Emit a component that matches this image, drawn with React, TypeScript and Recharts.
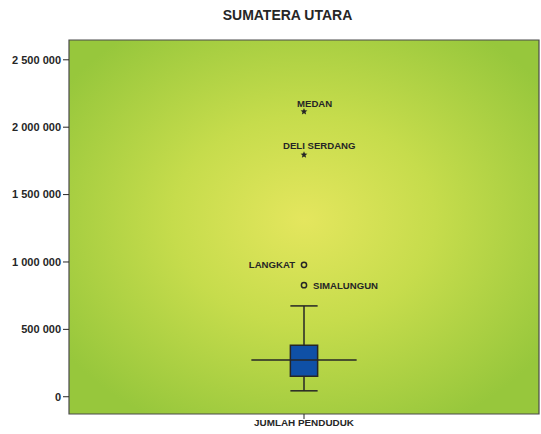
import React from "react";
import {
  ComposedChart,
  XAxis,
  YAxis,
  Scatter,
  ReferenceArea,
  ReferenceLine,
} from "recharts";

const title = "SUMATERA UTARA";
const categories = ["JUMLAH PENDUDUK"];
const yTicks = [0, 500000, 1000000, 1500000, 2000000, 2500000];
const yDomain = [-128000, 2647000];

// box statistics
const whiskerLow = [44000];
const quartile1 = [153000];
const medians = [272000];
const quartile3 = [383000];
const whiskerHigh = [674000];

// outliers
const outlierNames = ["MEDAN", "DELI SERDANG", "LANGKAT", "SIMALUNGUN"];
const outlierValues = [2116000, 1795000, 979000, 828000];
const outlierKinds = ["extreme", "extreme", "outlier", "outlier"];

const CX = 0.5;
const BOX_HALF = 0.029;
const MED_HALF = 0.112;

const labelPlacement: Record<string, { dx: number; dy: number; anchor: "start" | "end" }> = {
  MEDAN: { dx: -7, dy: -5, anchor: "start" },
  "DELI SERDANG": { dx: -21, dy: -5.5, anchor: "start" },
  LANGKAT: { dx: -9, dy: 3.5, anchor: "end" },
  SIMALUNGUN: { dx: 9, dy: 4, anchor: "start" },
};

const outlierData = outlierNames.map((name, i) => ({
  x: CX,
  y: outlierValues[i],
  name,
  kind: outlierKinds[i],
}));

const fmt = (v: number) => String(v).replace(/\B(?=(\d{3})+(?!\d))/g, " ");

const FONT = "'Liberation Sans', Arial, sans-serif";
const INK = "#262626";

function starPath(cx: number, cy: number, R: number, r: number) {
  let d = "";
  for (let i = 0; i < 10; i++) {
    const ang = -Math.PI / 2 + (i * Math.PI) / 5;
    const rad = i % 2 === 0 ? R : r;
    d += (i === 0 ? "M" : "L") + (cx + rad * Math.cos(ang)).toFixed(2) + "," + (cy + rad * Math.sin(ang)).toFixed(2);
  }
  return d + "Z";
}

const OutlierShape = (props: any) => {
  const { cx, cy, payload } = props;
  if (cx == null || cy == null) return null;
  const p = labelPlacement[payload.name] || { dx: 8, dy: 4, anchor: "start" };
  return (
    <g>
      {payload.kind === "extreme" ? (
        <path d={starPath(cx, cy, 3.6, 1.6)} fill={INK} />
      ) : (
        <circle cx={cx} cy={cy} r={2.6} fill="none" stroke={INK} strokeWidth={1.5} />
      )}
      <text
        x={cx + p.dx}
        y={cy + p.dy}
        textAnchor={p.anchor}
        fontFamily={FONT}
        fontWeight="bold"
        fontSize={9.6}
        fill={INK}
      >
        {payload.name}
      </text>
    </g>
  );
};

export default function App() {
  return (
    <div style={{ position: "absolute", left: 0, top: 0, width: 541, height: 434, background: "#fff" }}>
      <div
        style={{
          position: "absolute",
          left: 220,
          top: 7,
          width: 135,
          textAlign: "center",
          fontFamily: FONT,
          fontWeight: "bold",
          fontSize: 14,
          color: INK,
          whiteSpace: "nowrap",
        }}
      >
        {title}
      </div>
      <ComposedChart
        width={541}
        height={434}
        margin={{ top: 40, right: 2, bottom: 0, left: 0 }}
        data={outlierData}
      >
        <defs>
          <radialGradient id="bgGrad" cx="50%" cy="48%" r="62%" fx="50%" fy="48%">
            <stop offset="0%" stopColor="#e4e65e" />
            <stop offset="45%" stopColor="#c6dc4c" />
            <stop offset="100%" stopColor="#97c73c" />
          </radialGradient>
        </defs>
        <XAxis
          type="number"
          dataKey="x"
          domain={[0, 1]}
          ticks={[CX]}
          tickFormatter={() => categories[0]}
          height={20}
          tickSize={5}
          axisLine={false}
          tickLine={{ stroke: INK }}
          tick={{ fontFamily: FONT, fontWeight: "bold", fontSize: 9.9, fill: INK, dy: -2 }}
          allowDataOverflow
        />
        <YAxis
          type="number"
          dataKey="y"
          domain={yDomain}
          ticks={yTicks}
          tickFormatter={fmt}
          width={69}
          tickSize={6}
          axisLine={false}
          tickLine={{ stroke: INK }}
          tick={{ fontFamily: FONT, fontWeight: "bold", fontSize: 11, fill: INK }}
          allowDataOverflow
        />
        <ReferenceArea
          x1={0}
          x2={1}
          y1={yDomain[0]}
          y2={yDomain[1]}
          fill="url(#bgGrad)"
          fillOpacity={1}
          stroke="#4a4a4a"
          strokeWidth={1.2}
        />
        <ReferenceLine
          segment={[{ x: CX, y: whiskerLow[0] }, { x: CX, y: quartile1[0] }]}
          stroke={INK}
          strokeWidth={1.5}
        />
        <ReferenceLine
          segment={[{ x: CX, y: quartile3[0] }, { x: CX, y: whiskerHigh[0] }]}
          stroke={INK}
          strokeWidth={1.5}
        />
        <ReferenceLine
          segment={[{ x: CX - BOX_HALF, y: whiskerLow[0] }, { x: CX + BOX_HALF, y: whiskerLow[0] }]}
          stroke={INK}
          strokeWidth={1.5}
        />
        <ReferenceLine
          segment={[{ x: CX - BOX_HALF, y: whiskerHigh[0] }, { x: CX + BOX_HALF, y: whiskerHigh[0] }]}
          stroke={INK}
          strokeWidth={1.5}
        />
        <ReferenceArea
          x1={CX - BOX_HALF}
          x2={CX + BOX_HALF}
          y1={quartile1[0]}
          y2={quartile3[0]}
          fill="#0f50a6"
          fillOpacity={1}
          stroke={INK}
          strokeWidth={1.5}
        />
        <ReferenceLine
          segment={[{ x: CX - MED_HALF, y: medians[0] }, { x: CX + MED_HALF, y: medians[0] }]}
          stroke={INK}
          strokeWidth={1.5}
        />
        <Scatter
          data={outlierData}
          dataKey="y"
          shape={<OutlierShape />}
          isAnimationActive={false}
        />
      </ComposedChart>
    </div>
  );
}
